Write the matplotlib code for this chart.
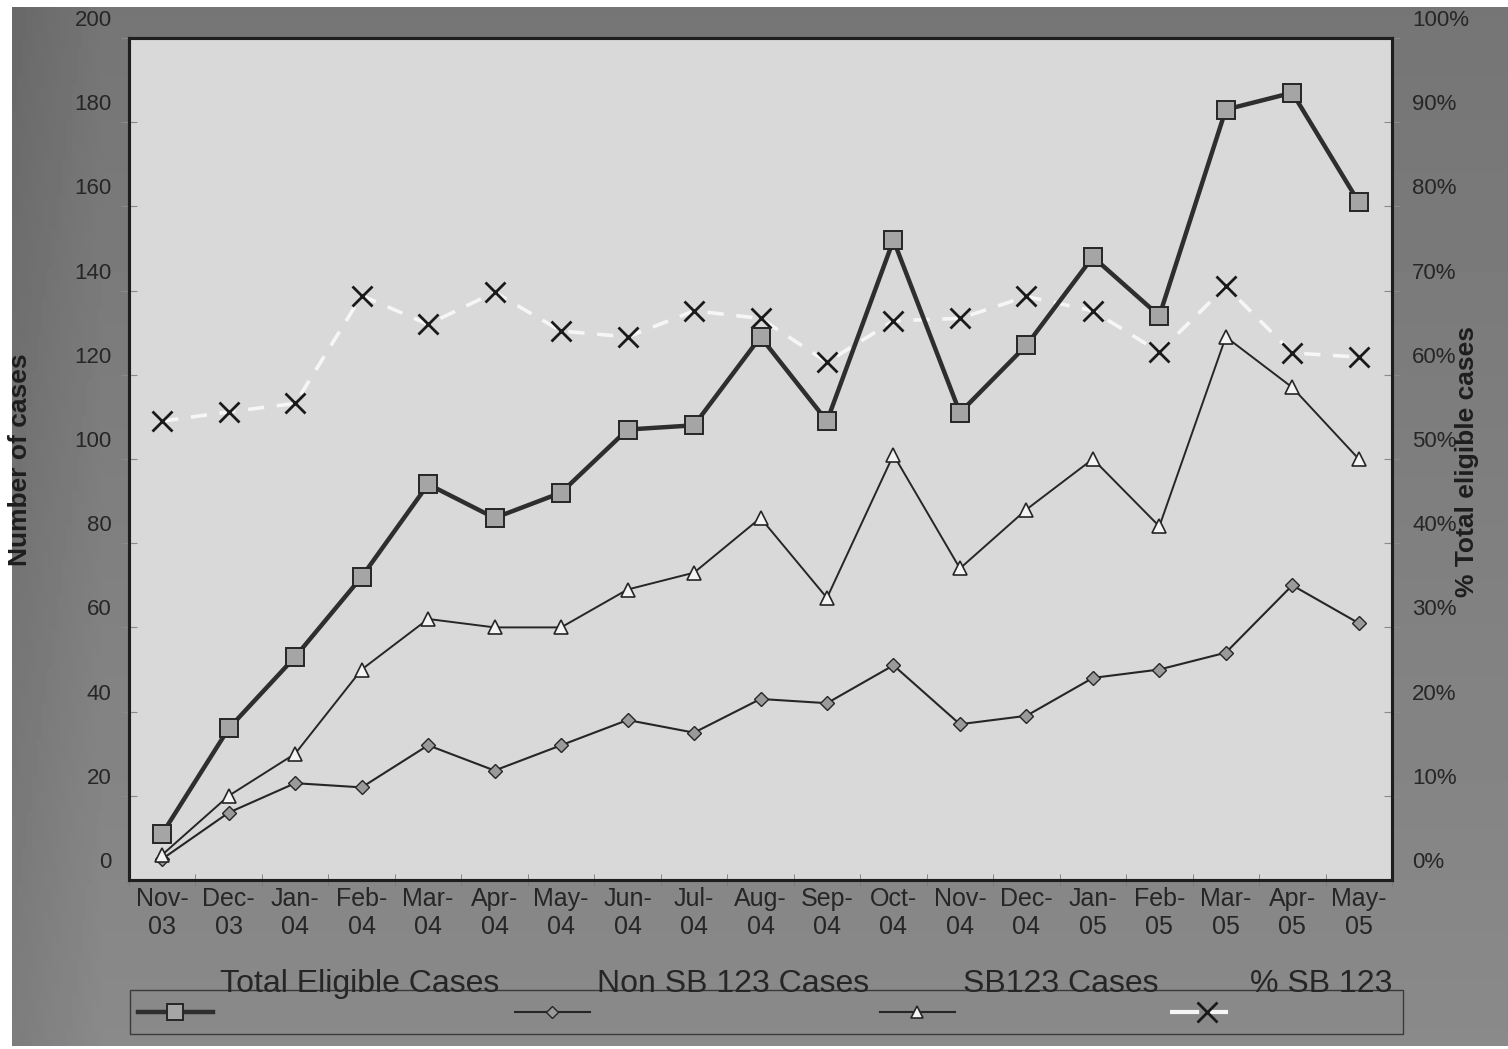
import numpy as np
import matplotlib.pyplot as plt
import matplotlib.transforms as mtransforms
from matplotlib.patches import Rectangle
from matplotlib.ticker import FuncFormatter

plt.rcParams['font.family'] = ['Liberation Sans', 'DejaVu Sans']

months = ["Nov-\n03", "Dec-\n03", "Jan-\n04", "Feb-\n04", "Mar-\n04", "Apr-\n04",
          "May-\n04", "Jun-\n04", "Jul-\n04", "Aug-\n04", "Sep-\n04", "Oct-\n04",
          "Nov-\n04", "Dec-\n04", "Jan-\n05", "Feb-\n05", "Mar-\n05", "Apr-\n05",
          "May-\n05"]
total_cases = [11, 36, 53, 72, 94, 86, 92, 107, 108, 129, 109, 152, 111, 127, 148, 134, 183, 187, 161]
non_sb123 = [5, 16, 23, 22, 32, 26, 32, 38, 35, 43, 42, 51, 37, 39, 48, 50, 54, 70, 61]
sb123 = [6, 20, 30, 50, 62, 60, 60, 69, 73, 86, 67, 101, 74, 88, 100, 84, 129, 117, 100]
pct_sb123 = [54.5, 55.6, 56.6, 69.4, 66.0, 69.8, 65.2, 64.5, 67.6, 66.7, 61.5, 66.4,
             66.7, 69.3, 67.6, 62.7, 70.5, 62.6, 62.1]

W, H = 1508, 1049
INK = '#262626'


def box(x0, y0, x1, y1):
    # pixel box measured from the top-left corner -> figure fraction rect
    return [x0 / W, 1 - y1 / H, (x1 - x0) / W, (y1 - y0) / H]


fig = plt.figure(figsize=(W / 100, H / 100), dpi=100, facecolor='white')

# grey backdrop behind the whole chart
bg = fig.add_axes(box(12, 7, W, 1046), zorder=-10)
gx, gy = np.meshgrid(np.linspace(0, 1, 300), np.linspace(0, 1, 200))
shade = 0.46 + 0.08 * gy - 0.05 * np.clip(1 - gx / 0.06, 0, 1)
bg.imshow(shade, cmap='gray', vmin=0, vmax=1, aspect='auto', extent=(0, 1, 0, 1))
bg.axis('off')

ax = fig.add_axes(box(129, 38, 1392, 880))
ax2 = ax.twinx()
# percentage series sits underneath the case counts
ax.set_zorder(2)
ax2.set_zorder(1)
ax.patch.set_visible(False)
ax2.patch.set_visible(True)
ax2.patch.set_facecolor('#d9d9d9')

x = np.arange(len(months))

ax.plot(x, non_sb123, color=INK, lw=1.5, marker='D', ms=7, mfc='#9a9a9a',
        mec=INK, mew=1.0, zorder=3)
ax.plot(x, sb123, color=INK, lw=1.4, marker='^', ms=10, mfc='#f4f4f4',
        mec=INK, mew=1.2, zorder=4)
ax.plot(x, total_cases, color='#2e2e2e', lw=3.2, marker='s', ms=12.5, mfc='#a5a5a5',
        mec=INK, mew=1.4, zorder=5)

ax.set_xlim(-0.5, len(months) - 0.5)
ax.set_ylim(0, 200)
ax.set_yticks(range(0, 201, 20))
ax.set_xticks(x, months)
ax.set_xticks(np.arange(-0.5, len(months), 1), minor=True)
ax.tick_params(axis='x', which='major', length=0, pad=5, labelsize=18, labelcolor=INK)
ax.tick_params(axis='x', which='minor', length=9, direction='inout', color='#777777')
ax.tick_params(axis='y', length=11, direction='inout', color='#8a8a8a', pad=7,
               labelsize=16, labelcolor=INK)

ax2.plot(x, pct_sb123, color='#f6f6f6', lw=2.6, dashes=(4.5, 3.5), marker='x', ms=15,
         mec='#1a1a1a', mew=2)
ax2.set_ylim(0, 100)
ax2.set_yticks(range(0, 101, 10))
ax2.yaxis.set_major_formatter(FuncFormatter(lambda v, p: f"{v:.0f}%"))
ax2.tick_params(axis='y', length=11, direction='inout', color='#8a8a8a', pad=9,
                labelsize=16, labelcolor=INK)

for a in (ax, ax2):
    for s in a.spines.values():
        s.set_color('#1e1e1e')
        s.set_linewidth(2.2)

# value labels sit a little above their tick marks
lift = mtransforms.ScaledTranslation(0, 0.2, fig.dpi_scale_trans)
for lab in ax.get_yticklabels() + ax2.get_yticklabels():
    lab.set_transform(lab.get_transform() + lift)

fig.text(20 / W, 1 - 460 / H, "Number of cases", rotation=90, ha='center',
         va='center', fontsize=19, fontweight='bold', color='#1e1e1e')
fig.text(1467 / W, 1 - 462 / H, "% Total eligible cases", rotation=90, ha='center',
         va='center', fontsize=19, fontweight='bold', color='#1e1e1e')

# legend drawn in pixel space under the plot
lg = fig.add_axes([0, 0, 1, 1], zorder=5)
lg.set_xlim(0, W)
lg.set_ylim(H, 0)
lg.axis('off')
lg.patch.set_visible(False)
lg.add_patch(Rectangle((130, 990), 1273, 44, fill=False, ec='#3a3a3a', lw=1))

ly = 1012
lg.plot([138, 213], [ly, ly], color='#2e2e2e', lw=3.2)
lg.plot([175], [ly], marker='s', ms=12, mfc='#a5a5a5', mec=INK, mew=1.4)
lg.plot([515, 590], [ly, ly], color=INK, lw=1.5)
lg.plot([552], [ly], marker='D', ms=6, mfc='#9a9a9a', mec=INK, mew=1.0)
lg.plot([880, 955], [ly, ly], color=INK, lw=1.5)
lg.plot([917], [ly], marker='^', ms=8, mfc='#f4f4f4', mec=INK, mew=1.2)
lg.plot([1170, 1228], [ly, ly], color='#f6f6f6', lw=3, dashes=(7, 1.5))
lg.plot([1207], [ly], marker='x', ms=14, mec='#1a1a1a', mew=2)

for tx, label in [(220, "Total Eligible Cases"), (597, "Non SB 123 Cases"),
                  (963, "SB123 Cases"), (1250, "% SB 123")]:
    lg.text(tx, 984, label, ha='left', va='center', fontsize=23, color=INK)

fig.savefig("out.png", dpi=100, facecolor=fig.get_facecolor())
